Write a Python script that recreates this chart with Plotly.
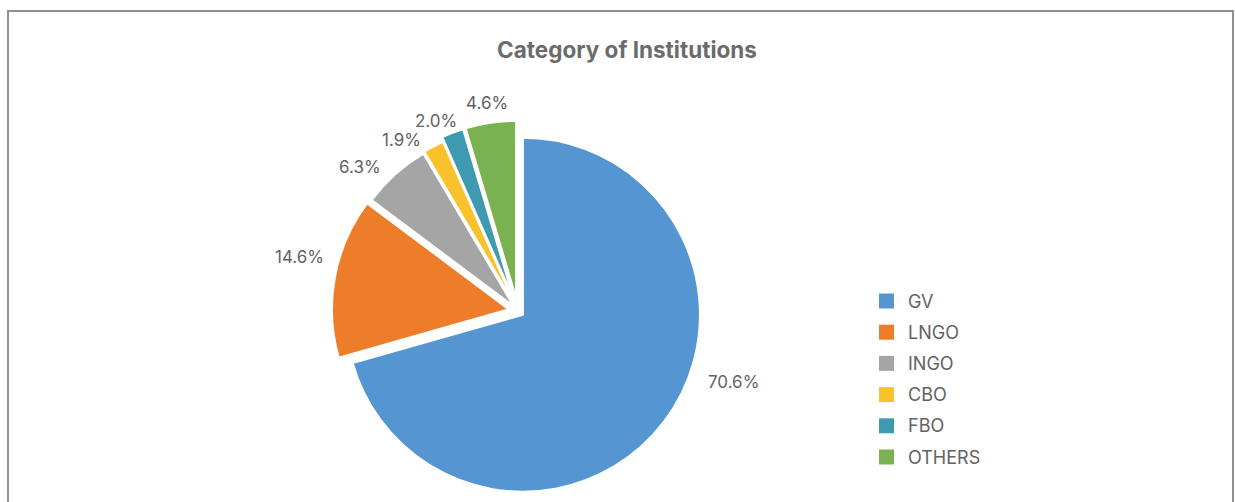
import math
import plotly.graph_objects as go

# Share of institutions by category (%)
categories = ["GV", "LNGO", "INGO", "CBO", "FBO", "OTHERS"]
shares = [70.6, 14.6, 6.3, 1.9, 2.0, 4.6]
colors = ["#5596D2", "#EE7D2B", "#A5A5A5", "#F9C22B", "#3E9AB0", "#7AB251"]

W, H = 1235, 502
FONT = "Inter, Roboto, 'Open Sans', sans-serif"
TEXT_GREY = "#626262"

# Pie geometry (pixels): centre, radius; per-slice explode amounts
CX, CY, R = 518, 311, 177
PULLS = {"GV": 0.035, "LNGO": 0.052, "INGO": 0.038, "CBO": 0.045, "FBO": 0.072, "OTHERS": 0.075}
# Data-label placement: radial distance and angular shift from each slice's bisector
LABEL_R = {"GV": 227, "LNGO": 225.5, "INGO": 214, "CBO": 207, "FBO": 207, "OTHERS": 210.5}
LABEL_SHIFT = {"GV": -18.9, "LNGO": 3.4, "INGO": -5.8, "CBO": -7.1, "FBO": -3.1, "OTHERS": -0.3}

pulls = [PULLS[c] for c in categories]
half = R * (1 + max(pulls))
dom_x = [(CX - half) / W, (CX + half) / W]
dom_y = [max(0.0, 1 - (CY + half) / H), 1 - (CY - half) / H]

fig = go.Figure(
    go.Pie(
        labels=categories,
        values=shares,
        sort=False,
        direction="clockwise",
        rotation=0,
        pull=pulls,
        marker=dict(colors=colors, line=dict(color="white", width=2)),
        textinfo="none",
        hoverinfo="label+value",
        showlegend=False,
        domain=dict(x=dom_x, y=dom_y),
    )
)

annotations = []
total = sum(shares)
cum = 0.0
for cat, val in zip(categories, shares):
    mid = (cum + val / 2) / total * 360 + LABEL_SHIFT[cat]
    cum += val
    a = math.radians(mid)
    px = CX + LABEL_R[cat] * math.sin(a)
    py = CY - LABEL_R[cat] * math.cos(a)
    annotations.append(dict(
        x=px / W, y=1 - py / H, xref="paper", yref="paper",
        text=f"{val:.1f}%", showarrow=False,
        xanchor="center", yanchor="middle",
        font=dict(family=FONT, size=17, color=TEXT_GREY),
    ))

# Legend: colour swatches with category names
shapes = []
LEG_X, LEG_Y0, LEG_DY, SW = 879, 301, 31.2, 15
for i, (cat, col) in enumerate(zip(categories, colors)):
    yc = LEG_Y0 + i * LEG_DY
    shapes.append(dict(
        type="rect", xref="paper", yref="paper",
        x0=LEG_X / W, x1=(LEG_X + SW) / W,
        y0=1 - (yc + SW / 2) / H, y1=1 - (yc - SW / 2) / H,
        fillcolor=col, line=dict(width=0),
    ))
    annotations.append(dict(
        x=906 / W, y=1 - yc / H, xref="paper", yref="paper",
        text=cat, showarrow=False, xanchor="left", yanchor="middle",
        font=dict(family=FONT, size=18, color=TEXT_GREY),
    ))

# Chart-area frame
shapes.append(dict(
    type="rect", xref="paper", yref="paper",
    x0=8 / W, x1=1233 / W, y0=1 - 520 / H, y1=1 - 11 / H,
    line=dict(color="#8F8F8F", width=2), fillcolor="rgba(0,0,0,0)",
))

fig.update_layout(
    width=W, height=H,
    margin=dict(l=0, r=0, t=0, b=0),
    paper_bgcolor="white", plot_bgcolor="white",
    title=dict(
        text="<b>Category of Institutions</b>",
        x=627 / W, xanchor="center", y=1 - 50 / H, yanchor="middle",
        font=dict(family=FONT, size=22.5, color="#6B6B6B"),
    ),
    annotations=annotations,
    shapes=shapes,
)

fig.write_html("out.html")
